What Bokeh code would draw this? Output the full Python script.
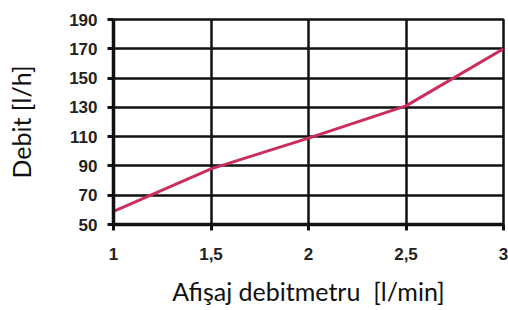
from bokeh.plotting import figure
from bokeh.models import FixedTicker, Range1d
from bokeh.embed import file_html
from bokeh.resources import INLINE

flow_lmin = [1, 1.5, 2, 2.5, 3]
flow_lh = [59, 88, 109, 131, 170]
x_ticks = [1, 1.5, 2, 2.5, 3]
x_labels = {1: "1", 1.5: "1,5", 2: "2", 2.5: "2,5", 3: "3"}
y_ticks = [50, 70, 90, 110, 130, 150, 170, 190]
x_title = "Afişaj debitmetru\u00a0 [l/min]"
y_title = "Debit [l/h]"

p = figure(width=508, height=310, output_backend="svg", toolbar_location=None,
           x_range=Range1d(1, 3), y_range=Range1d(50, 190),
           min_border_left=113, min_border_right=5, min_border_top=19, min_border_bottom=86)
p.background_fill_color = "white"
p.border_fill_color = "white"
p.outline_line_color = "#111111"
p.outline_line_width = 2.5

p.line(flow_lmin, flow_lh, line_color="#cc2e5c", line_width=3)

for ax in (p.xaxis[0], p.yaxis[0]):
    ax.axis_line_color = "#111111"
    ax.axis_line_width = 3.5
    ax.major_tick_line_color = "#111111"
    ax.major_tick_line_width = 3
    ax.major_tick_out = 6
    ax.major_tick_in = 0
    ax.minor_tick_line_color = None
    ax.major_label_text_font = "Liberation Sans"
    ax.major_label_text_font_style = "bold"
    ax.major_label_text_font_size = "17px"
    ax.major_label_text_color = "#222222"
    ax.axis_label_text_font = "Lato"
    ax.axis_label_text_font_style = "normal"
    ax.axis_label_text_font_size = "25px"
    ax.axis_label_text_color = "#111111"

p.xaxis.ticker = FixedTicker(ticks=x_ticks)
p.xaxis.major_label_overrides = x_labels
p.yaxis.ticker = FixedTicker(ticks=y_ticks)
p.xaxis.axis_label = x_title
p.yaxis.axis_label = y_title
p.xaxis.major_label_standoff = 17
p.yaxis.major_label_standoff = 10
p.xaxis.axis_label_standoff = 13
p.yaxis.axis_label_standoff = 30

p.xgrid.ticker = FixedTicker(ticks=x_ticks)
p.ygrid.ticker = FixedTicker(ticks=y_ticks)
for g in (p.xgrid[0], p.ygrid[0]):
    g.grid_line_color = "#111111"
    g.grid_line_width = 2.5

open("out.html", "w").write(file_html(p, INLINE))
